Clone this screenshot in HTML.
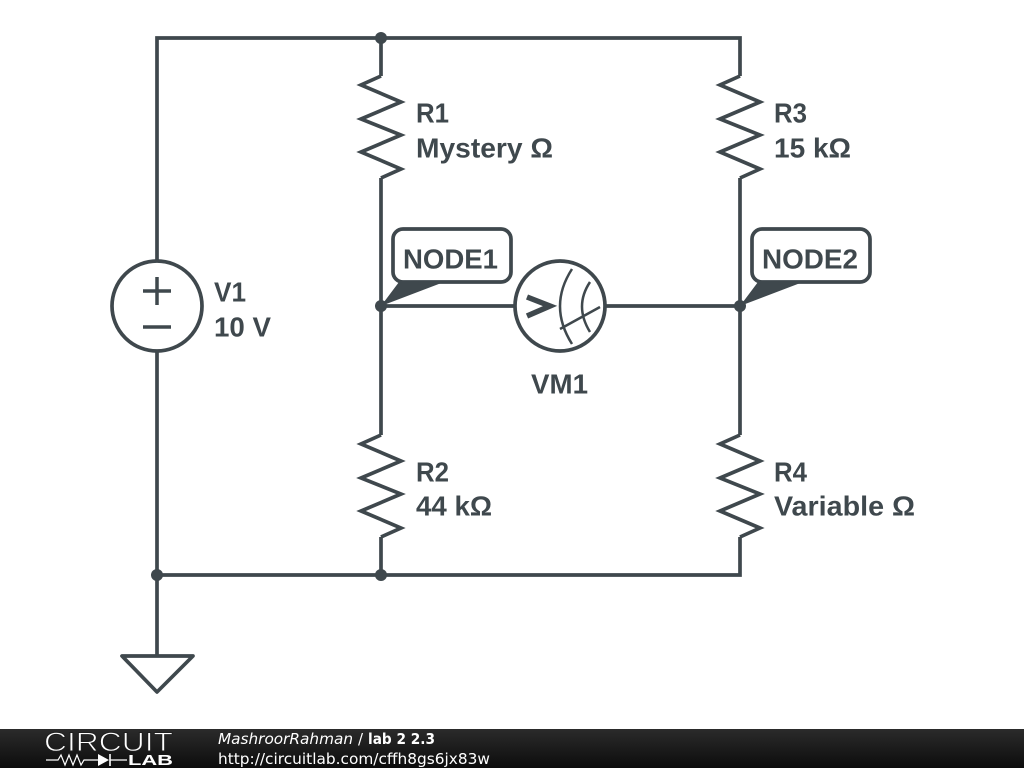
<!DOCTYPE html>
<html><head><meta charset="utf-8"><style>
html,body{margin:0;padding:0;background:#fff;width:1024px;height:768px;overflow:hidden}
svg{display:block}
.t{font-family:"Liberation Sans",sans-serif;font-weight:700;font-size:28px;fill:#3f484d}
.f{font-family:"DejaVu Sans",sans-serif;font-size:15px;fill:#fff}
</style></head><body>
<svg width="1024" height="768" viewBox="0 0 1024 768" xmlns="http://www.w3.org/2000/svg">
<defs><linearGradient id="g" x1="0" y1="0" x2="0" y2="1"><stop offset="0" stop-color="#2b2b2b"/><stop offset="1" stop-color="#0c0c0c"/></linearGradient></defs>
<g fill="none" stroke="#3f484d" stroke-width="3.7" stroke-linejoin="miter">
<path d="M157 261V38H740V76M381 38V76M381 178V435M381 537V575M740 178V435M740 537V575H157M157 351V656M381 306H515M606 306H740"/>
<path d="M381 76L361 85L401 102L361 119L401 135L361 152L401 169L381 178"/>
<path d="M740 76L720 85L760 102L720 119L760 135L720 152L760 169L740 178"/>
<path d="M381 435L361 444L401 461L361 478L401 494L361 511L401 528L381 537"/>
<path d="M740 435L720 444L760 461L720 478L760 494L720 511L760 528L740 537"/>
<circle cx="157" cy="306" r="45"/>
<path d="M143 291H171M157 277V305M143 327H171" stroke-width="3.5"/>
<circle cx="560" cy="306" r="45"/>
<path d="M527 297L550 306L527 316" stroke-width="5.5"/>
<path d="M572 269Q548 306 572 344M590 282Q574 306 590 332M560 329L600 307" stroke-width="2.5"/>
<path d="M122 656H193L157 692Z" stroke-linejoin="round"/>
<rect x="393" y="229" width="118" height="53" rx="10" fill="#fff"/>
<rect x="752" y="229" width="118" height="53" rx="10" fill="#fff"/>
</g>
<g fill="#3f484d">
<path d="M381 306L399 282H444Z"/><path d="M740 306L758 282H803Z"/>
<circle cx="381" cy="38" r="6"/><circle cx="381" cy="306" r="6"/><circle cx="740" cy="306" r="6"/>
<circle cx="157" cy="575" r="6"/><circle cx="381" cy="575" r="6"/>
</g>
<text class="t" x="416" y="122.500" textLength="33" lengthAdjust="spacingAndGlyphs">R1</text><text class="t" x="416" y="157.500" textLength="137" lengthAdjust="spacingAndGlyphs">Mystery Ω</text>
<text class="t" x="774" y="122.500" textLength="33" lengthAdjust="spacingAndGlyphs">R3</text><text class="t" x="774" y="157.500" textLength="77" lengthAdjust="spacingAndGlyphs">15 kΩ</text>
<text class="t" x="214" y="301.500" textLength="32" lengthAdjust="spacingAndGlyphs">V1</text><text class="t" x="214" y="336.500" textLength="57" lengthAdjust="spacingAndGlyphs">10 V</text>
<text class="t" x="403" y="268.500" textLength="95" lengthAdjust="spacingAndGlyphs">NODE1</text><text class="t" x="762" y="268.500" textLength="96" lengthAdjust="spacingAndGlyphs">NODE2</text>
<text class="t" x="531" y="393.500" textLength="57" lengthAdjust="spacingAndGlyphs">VM1</text>
<text class="t" x="416" y="481.500" textLength="33" lengthAdjust="spacingAndGlyphs">R2</text><text class="t" x="416" y="515.500" textLength="76" lengthAdjust="spacingAndGlyphs">44 kΩ</text>
<text class="t" x="774" y="481.500" textLength="33" lengthAdjust="spacingAndGlyphs">R4</text><text class="t" x="774" y="515.500" textLength="141" lengthAdjust="spacingAndGlyphs">Variable Ω</text>
<rect x="0" y="729" width="1024" height="39" fill="url(#g)"/>
<text x="44" y="751" font-family="'Liberation Sans',sans-serif" font-size="27" fill="#fff" stroke="#1f1f1f" stroke-width="0.9" textLength="129" lengthAdjust="spacingAndGlyphs">CIRCUIT</text>
<path d="M46 760H58L61 755L65 765L69 755L73 765L77 755L81 765L84 760H98M110 760H127" fill="none" stroke="#fff" stroke-width="1.2"/>
<path d="M98 754L109 760L98 766Z" fill="#fff"/><path d="M110 754V766" stroke="#fff" stroke-width="1.6"/>
<text x="128" y="765" font-family="'Liberation Sans',sans-serif" font-weight="700" font-size="14.5" fill="#fff" textLength="45" lengthAdjust="spacingAndGlyphs">LAB</text>
<text class="f" x="218" y="744" font-style="italic" textLength="135" lengthAdjust="spacingAndGlyphs">MashroorRahman</text>
<text class="f" x="358" y="744">/</text>
<text class="f" x="368" y="744" font-weight="700" textLength="67" lengthAdjust="spacingAndGlyphs">lab 2 2.3</text>
<text class="f" x="218" y="764" textLength="272" lengthAdjust="spacingAndGlyphs">http://circuitlab.com/cffh8gs6jx83w</text>
</svg>
</body></html>
